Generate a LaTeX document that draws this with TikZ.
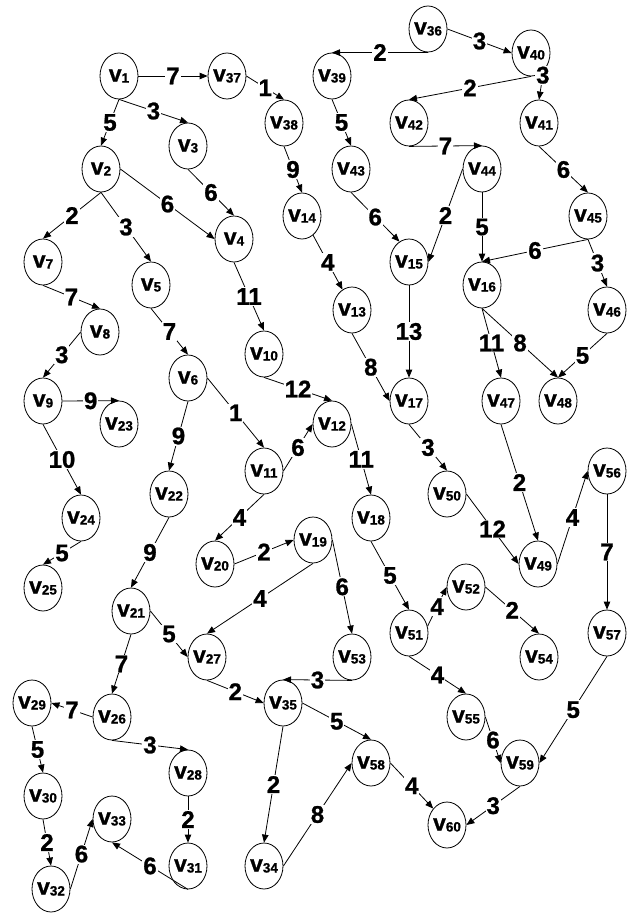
\documentclass[tikz,border=0pt]{standalone}
\usepackage{fontspec}
\setmainfont{Liberation Sans}[BoldFeatures={FakeBold=1}]
\usetikzlibrary{shapes.geometric,arrows.meta}
\newcommand\vn[1]{v\raisebox{-1pt}{\fontsize{13.5}{13.5}\selectfont\bfseries #1}}
\tikzset{
  vx/.style={draw, ellipse, line width=0.8pt, minimum width=38pt, minimum height=46pt, inner ysep=0pt, inner xsep=-2pt,
    font=\fontsize{23}{23}\selectfont\bfseries},
  edge/.style={line width=0.8pt, -{Triangle[length=8pt,width=6.5pt]}},
  lbl/.style={fill=white, inner sep=1pt, font=\fontsize{24}{24}\selectfont\bfseries}
}
\begin{document}
\begin{tikzpicture}[x=1pt,y=-1pt]
\useasboundingbox (0,0) rectangle (635,915);
\node[vx] (v1) at (119,76) {\vn{1}};
\node[vx] (v2) at (101,169) {\vn{2}};
\node[vx] (v3) at (188,146) {\vn{3}};
\node[vx] (v4) at (234,239) {\vn{4}};
\node[vx] (v5) at (151,285) {\vn{5}};
\node[vx] (v6) at (188,378) {\vn{6}};
\node[vx] (v7) at (43,262) {\vn{7}};
\node[vx] (v8) at (100,332) {\vn{8}};
\node[vx] (v9) at (43,401) {\vn{9}};
\node[vx] (v10) at (264,354) {\vn{10}};
\node[vx] (v11) at (264,471) {\vn{11}};
\node[vx] (v12) at (332,424) {\vn{12}};
\node[vx] (v13) at (352,310) {\vn{13}};
\node[vx] (v14) at (302,216) {\vn{14}};
\node[vx] (v15) at (409,262) {\vn{15}};
\node[vx] (v16) at (482,285) {\vn{16}};
\node[vx] (v17) at (409,401) {\vn{17}};
\node[vx] (v18) at (371,518) {\vn{18}};
\node[vx] (v19) at (313,540) {\vn{19}};
\node[vx] (v20) at (215,564) {\vn{20}};
\node[vx] (v21) at (131,611) {\vn{21}};
\node[vx] (v22) at (169,494) {\vn{22}};
\node[vx] (v23) at (119,424) {\vn{23}};
\node[vx] (v24) at (81,518) {\vn{24}};
\node[vx] (v25) at (43,588) {\vn{25}};
\node[vx] (v26) at (112,717) {\vn{26}};
\node[vx] (v27) at (207,657) {\vn{27}};
\node[vx] (v28) at (188,773) {\vn{28}};
\node[vx] (v29) at (32,703) {\vn{29}};
\node[vx] (v30) at (43,796) {\vn{30}};
\node[vx] (v31) at (188,866) {\vn{31}};
\node[vx] (v32) at (51,889) {\vn{32}};
\node[vx] (v33) at (112,819) {\vn{33}};
\node[vx] (v34) at (264,866) {\vn{34}};
\node[vx] (v35) at (283,703) {\vn{35}};
\node[vx] (v36) at (428,29) {\vn{36}};
\node[vx] (v37) at (227,76) {\vn{37}};
\node[vx] (v38) at (284,123) {\vn{38}};
\node[vx] (v39) at (332,76) {\vn{39}};
\node[vx] (v40) at (531,53) {\vn{40}};
\node[vx] (v41) at (539,123) {\vn{41}};
\node[vx] (v42) at (409,123) {\vn{42}};
\node[vx] (v43) at (351,169) {\vn{43}};
\node[vx] (v44) at (482,169) {\vn{44}};
\node[vx] (v45) at (588,216) {\vn{45}};
\node[vx] (v46) at (607,310) {\vn{46}};
\node[vx] (v47) at (501,401) {\vn{47}};
\node[vx] (v48) at (558,401) {\vn{48}};
\node[vx] (v49) at (538,564) {\vn{49}};
\node[vx] (v50) at (447,494) {\vn{50}};
\node[vx] (v51) at (409,633) {\vn{51}};
\node[vx] (v52) at (466,587) {\vn{52}};
\node[vx] (v53) at (352,657) {\vn{53}};
\node[vx] (v54) at (539,657) {\vn{54}};
\node[vx] (v55) at (466,717) {\vn{55}};
\node[vx] (v56) at (607,471) {\vn{56}};
\node[vx] (v57) at (607,633) {\vn{57}};
\node[vx] (v58) at (371,763) {\vn{58}};
\node[vx] (v59) at (520,763) {\vn{59}};
\node[vx] (v60) at (447,825) {\vn{60}};
% edges
\draw[edge] (v1.east) -- node[lbl]{7} (v37.west);
\draw[edge] (v1.south) -- node[lbl]{5} (v2.north);
\draw[edge] (v1.south) -- node[lbl]{3} (v3.north);
\draw[edge] (v37.east) -- node[lbl]{1} (v38.north);
\draw[edge] (v38.south) -- node[lbl]{9} (v14.north);
\draw[edge] (v3.south) -- node[lbl]{6} (v4.north);
\draw[edge] (v2.east) -- node[lbl]{6} (v4.west);
\draw[edge] (v2.south) -- node[lbl]{2} (v7.north);
\draw[edge] (v2.south) -- node[lbl]{3} (v5.north);
\draw[edge] (v4.south) -- node[lbl]{11} (v10.north);
\draw[edge] (v7.south) -- node[lbl]{7} (v8.north);
\draw[edge] (v8.west) -- node[lbl]{3} (v9.north);
\draw[edge] (v9.east) -- node[lbl]{9} (v23.north);
\draw[edge] (v9.south) -- node[lbl]{10} (v24.north);
\draw[edge] (v24.south) -- node[lbl]{5} (v25.north);
\draw[edge] (v5.south) -- node[lbl]{7} (v6.north);
\draw[edge] (v6.east) -- node[lbl]{1} (v11.north);
\draw[edge] (v6.south) -- node[lbl]{9} (v22.north);
\draw[edge] (v10.south) -- node[lbl]{12} (v12.north);
\draw[edge] (v11.east) -- node[lbl]{6} (v12.west);
\draw[edge] (v11.south) -- node[lbl]{4} (v20.north);
\draw[edge] (v22.south) -- node[lbl]{9} (v21.north);
\draw[edge] (v20.east) -- node[lbl]{2} (v19.west);
\draw[edge] (v19.south) -- node[lbl]{4} (v27.north);
\draw[edge] (v19.east) -- node[lbl]{6} (v53.north);
\draw[edge] (v12.east) -- node[lbl]{11} (v18.north);
\draw[edge] (v14.-60) -- node[lbl]{4} (v13.115);
\draw[edge] (v13.south) -- node[lbl]{8} (v17.west);
\draw[edge] (v15.south) -- node[lbl]{13} (v17.north);
\draw[edge] (v17.south) -- node[lbl]{3} (v50.north);
\draw[edge] (v50.east) -- node[lbl]{12} (v49.west);
\draw[edge] (v47.south) -- node[lbl]{2} (v49.north);
\draw[edge] (v49.east) -- node[lbl]{4} (v56.west);
\draw[edge] (v56.south) -- node[lbl]{7} (v57.north);
\draw[edge] (v57.south) -- node[lbl]{5} (v59.east);
\draw[edge] (v16.south) -- node[lbl]{11} (v47.north);
\draw[edge] (v16.south) -- node[lbl]{8} (v48.north);
\draw[edge] (v46.south) -- node[lbl]{5} (v48.north);
\draw[edge] (v45.south) -- node[lbl]{6} (v16.north);
\draw[edge] (v45.south) -- node[lbl]{3} (v46.north);
\draw[edge] (v41.south) -- node[lbl]{6} (v45.north);
\draw[edge] (v40.-55) -- node[lbl,pos=0.15]{3} (v41.north);
\draw[edge] (v40.south) -- node[lbl]{2} (v42.north);
\draw[edge] (v36.east) -- node[lbl]{3} (v40.west);
\draw[edge] (v36.south) -- node[lbl]{2} (v39.north);
\draw[edge] (v39.south) -- node[lbl]{5} (v43.north);
\draw[edge] (v43.south) -- node[lbl]{6} (v15.115);
\draw[edge] (v42.south) -- node[lbl]{7} (v44.north);
\draw[edge] (v44.west) -- node[lbl]{2} (v15.east);
\draw[edge] (v44.south) -- node[lbl]{5} (v16.north);
\draw[edge] (v18.south) -- node[lbl]{5} (v51.north);
\draw[edge] (v51.20) -- node[lbl]{4} (v52.west);
\draw[edge] (v52.east) -- node[lbl]{2} (v54.north);
\draw[edge] (v51.south) -- node[lbl]{4} (v55.north);
\draw[edge] (v55.east) -- node[lbl]{6} (v59.west);
\draw[edge] (v59.south) -- node[lbl]{3} (v60.east);
\draw[edge] (v58.east) -- node[lbl]{4} (v60.130);
\draw[edge] (v35.east) -- node[lbl]{5} (v58.north);
\draw[edge] (v34.east) -- node[lbl]{8} (v58.west);
\draw[edge] (v35.south) -- node[lbl]{2} (v34.north);
\draw[edge] (v53.south) -- node[lbl]{3} (v35.north);
\draw[edge] (v27.south) -- node[lbl]{2} (v35.west);
\draw[edge] (v21.east) -- node[lbl]{5} (v27.west);
\draw[edge] (v21.south) -- node[lbl]{7} (v26.north);
\draw[edge] (v26.west) -- node[lbl]{7} (v29.east);
\draw[edge] (v26.south) -- node[lbl]{3} (v28.north);
\draw[edge] (v29.south) -- node[lbl]{5} (v30.north);
\draw[edge] (v30.south) -- node[lbl]{2} (v32.north);
\draw[edge] (v32.east) -- node[lbl]{6} (v33.west);
\draw[edge] (v28.south) -- node[lbl]{2} (v31.north);
\draw[edge] (v31.south) -- node[lbl]{6} (v33.south);
\end{tikzpicture}
\end{document}
